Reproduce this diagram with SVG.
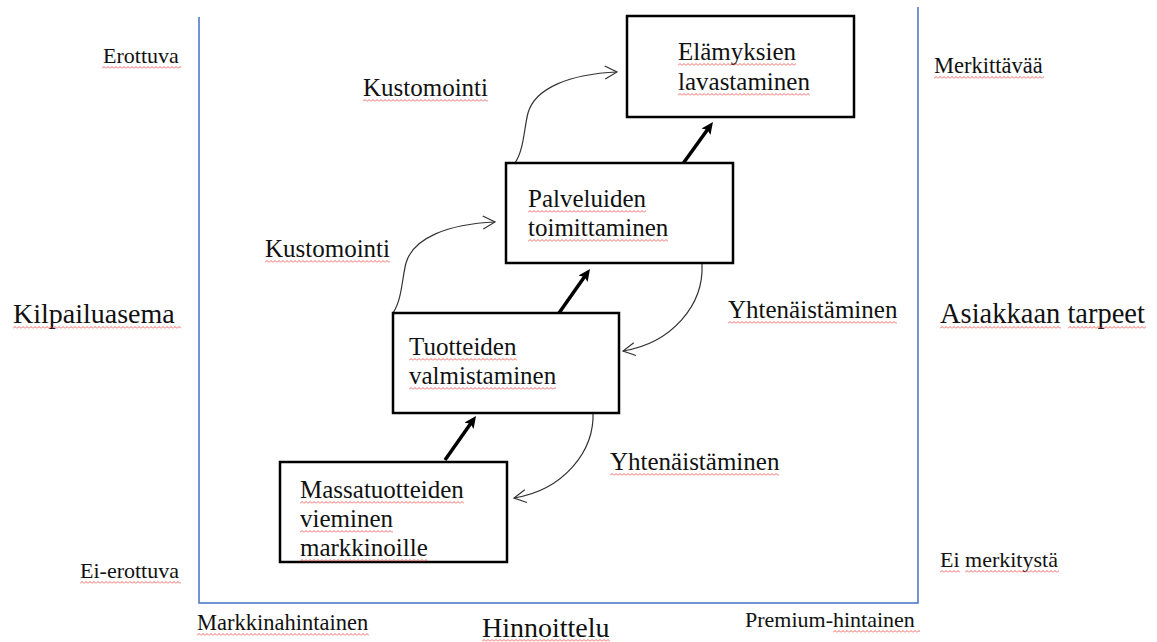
<svg xmlns="http://www.w3.org/2000/svg" width="1157" height="642" viewBox="0 0 1157 642">
  <style>
    text { font-family: "Liberation Serif", "Times New Roman", serif; fill: #111; }
    .t22 { font-size: 22px; }
    .t25 { font-size: 25px; }
    .t28 { font-size: 28px; }
    .box { fill: #fff; stroke: #000; stroke-width: 2.5; }
    .axis { fill: none; stroke: #4472c4; stroke-width: 1.5; }
    .step { fill: none; stroke: #000; stroke-width: 3.5; marker-end: url(#head-solid); }
    .loop { fill: none; stroke: #333; stroke-width: 1.2; marker-end: url(#head-open); }
    .sq { fill: url(#squiggle); }
  </style>
  <defs>
    <!-- filled head for the thick progression arrows -->
    <marker id="head-solid" markerUnits="userSpaceOnUse" markerWidth="13" markerHeight="11" refX="4" refY="5.5" orient="auto">
      <path d="M0,0 L12,5.5 L0,11 L2.5,5.5 z" fill="#000"/>
    </marker>
    <!-- open chevron head for the thin curved arrows -->
    <marker id="head-open" markerUnits="userSpaceOnUse" markerWidth="14" markerHeight="15" refX="13" refY="7.5" orient="auto">
      <path d="M1,1 L13,7.5 L1,14" fill="none" stroke="#333" stroke-width="1.2"/>
    </marker>
    <!-- red wavy underline -->
    <pattern id="squiggle" width="4" height="3" patternUnits="userSpaceOnUse">
      <path d="M0,2.5 L2,0.5 L4,2.5" fill="none" stroke="#e8413c" stroke-width="0.8"/>
    </pattern>
  </defs>

  <rect width="1157" height="642" fill="#fff"/>

  <!-- axes -->
  <g id="axes">
    <path class="axis" d="M199,17 V603 H918 V7"/>
  </g>

  <!-- axis labels -->
  <g id="axis-labels">
    <text class="t22" x="103" y="63">Erottuva</text>
    <rect class="sq" transform="translate(102,66)" width="79" height="3"/>
    <text class="t22" x="80" y="578">Ei-erottuva</text>
    <rect class="sq" transform="translate(80,581)" width="101" height="3"/>
    <text class="t28" x="13" y="323">Kilpailuasema</text>
    <rect class="sq" transform="translate(13,326)" width="168" height="3"/>

    <text class="t22" x="934" y="73" style="font-size:22.5px">Merkittävää</text>
    <rect class="sq" transform="translate(934,76)" width="110" height="3"/>
    <text class="t22" x="940" y="567">Ei merkitystä</text>
    <rect class="sq" transform="translate(940,570)" width="20" height="3"/>
    <rect class="sq" transform="translate(965,570)" width="94" height="3"/>
    <text class="t28" x="940" y="323" style="font-size:28.5px">Asiakkaan tarpeet</text>
    <rect class="sq" transform="translate(940,326)" width="121" height="3"/>
    <rect class="sq" transform="translate(1068,326)" width="78" height="3"/>

    <text class="t22" x="197" y="630" style="font-size:22.5px">Markkinahintainen</text>
    <rect class="sq" transform="translate(197,633)" width="172" height="3"/>
    <text class="t28" x="482" y="637">Hinnoittelu</text>
    <rect class="sq" transform="translate(482,639)" width="128" height="3"/>
    <text class="t22" x="745" y="627">Premium-hintainen</text>
    <rect class="sq" transform="translate(833,630)" width="87" height="3"/>
  </g>

  <!-- connectors -->
  <g id="connectors">
    <line class="step" x1="445" y1="460" x2="471.4" y2="422.5"/>
    <line class="step" x1="559" y1="313" x2="585.4" y2="275.5"/>
    <line class="step" x1="682" y1="165" x2="708.3" y2="128.5"/>

    <path class="loop" d="M393,313 C402,300 402,278 406,263 C413,238 448,224 495,222"/>
    <path class="loop" d="M515,163 C524,150 524,128 528,113 C535,88 570,74 617,72"/>

    <path class="loop" d="M702,264 C704,305 672,343 623,351"/>
    <path class="loop" d="M593,411 C595,452 563,490 514,498"/>
  </g>

  <!-- connector labels -->
  <g id="connector-labels">
    <text class="t25" x="363" y="96">Kustomointi</text>
    <rect class="sq" transform="translate(363,99)" width="125" height="3"/>
    <text class="t25" x="265" y="257">Kustomointi</text>
    <rect class="sq" transform="translate(265,260)" width="125" height="3"/>
    <text class="t25" x="728" y="318">Yhtenäistäminen</text>
    <rect class="sq" transform="translate(728,321)" width="169" height="3"/>
    <text class="t25" x="610" y="470">Yhtenäistäminen</text>
    <rect class="sq" transform="translate(610,473)" width="169" height="3"/>
  </g>

  <!-- nodes -->
  <g id="node-massatuotteet">
    <rect class="box" x="280" y="462" width="227" height="100"/>
    <text class="t25" x="300" y="498">Massatuotteiden</text>
    <rect class="sq" transform="translate(300,501)" width="164" height="3"/>
    <text class="t25" x="300" y="527">vieminen</text>
    <rect class="sq" transform="translate(300,530)" width="93" height="3"/>
    <text class="t25" x="300" y="556">markkinoille</text>
    <rect class="sq" transform="translate(300,559)" width="128" height="3"/>
  </g>

  <g id="node-tuotteet">
    <rect class="box" x="393" y="313" width="226" height="100"/>
    <text class="t25" x="409" y="355">Tuotteiden</text>
    <rect class="sq" transform="translate(409,358)" width="108" height="3"/>
    <text class="t25" x="409" y="384">valmistaminen</text>
    <rect class="sq" transform="translate(409,387)" width="147" height="3"/>
  </g>

  <g id="node-palvelut">
    <rect class="box" x="506" y="163" width="227" height="100"/>
    <text class="t25" x="528" y="207">Palveluiden</text>
    <rect class="sq" transform="translate(528,210)" width="118" height="3"/>
    <text class="t25" x="528" y="236">toimittaminen</text>
    <rect class="sq" transform="translate(528,239)" width="140" height="3"/>
  </g>

  <g id="node-elamykset">
    <rect class="box" x="627" y="16" width="227" height="101"/>
    <text class="t25" x="678" y="60">Elämyksien</text>
    <rect class="sq" transform="translate(678,63)" width="118" height="3"/>
    <text class="t25" x="678" y="90">lavastaminen</text>
    <rect class="sq" transform="translate(678,93)" width="132" height="3"/>
  </g>
</svg>
